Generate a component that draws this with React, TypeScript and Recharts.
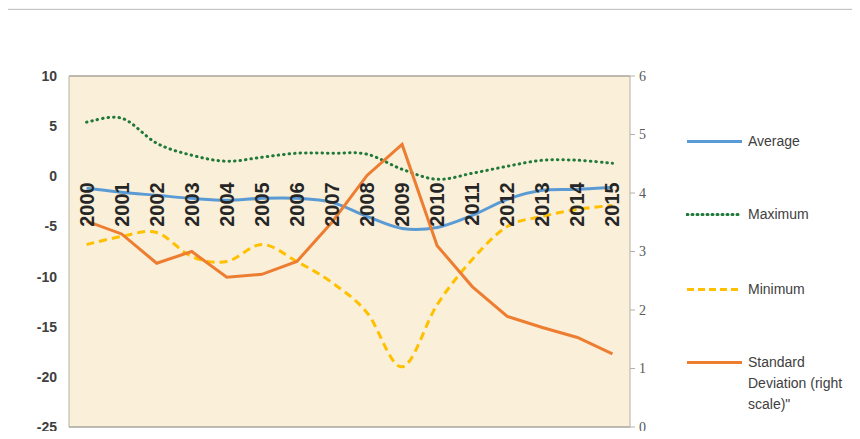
import { LineChart, Line, XAxis, YAxis, CartesianGrid, ReferenceDot } from "recharts";

// values
const years = [
  "2000", "2001", "2002", "2003", "2004", "2005", "2006", "2007",
  "2008", "2009", "2010", "2011", "2012", "2013", "2014", "2015",
];
const average = [-1.2, -1.6, -1.9, -2.2, -2.4, -2.2, -2.2, -2.6, -4.0, -5.2, -5.1, -3.9, -2.3, -1.4, -1.3, -1.1];
const maximum = [5.4, 5.8, 3.3, 2.1, 1.5, 1.9, 2.3, 2.3, 2.2, 0.7, -0.3, 0.3, 1.0, 1.6, 1.6, 1.3];
const minimum = [-6.8, -6.0, -5.6, -8.0, -8.5, -6.8, -8.5, -10.6, -13.6, -19.0, -12.8, -8.3, -5.0, -4.0, -3.3, -2.9];
const stdDev = [3.52, 3.3, 2.8, 3.0, 2.56, 2.61, 2.83, 3.5, 4.3, 4.83, 3.1, 2.4, 1.89, 1.7, 1.53, 1.25];

const leftTicks = [-25, -20, -15, -10, -5, 0, 5, 10];
const rightTicks = [0, 1, 2, 3, 4, 5, 6];

const legendItems = [
  { name: "Average", color: "#5B9BD5", dash: "none", cap: "butt" },
  { name: "Maximum", color: "#1F7A3A", dash: "1 4", cap: "round" },
  { name: "Minimum", color: "#FFC000", dash: "7 4", cap: "butt" },
  { name: "Standard Deviation (right scale)\"", color: "#ED7D31", dash: "none", cap: "butt" },
];

const data = years.map((year, i) => ({
  year,
  average: average[i],
  maximum: maximum[i],
  minimum: minimum[i],
  stdDev: stdDev[i],
}));

// Excel-like smoothed line (Catmull-Rom bezier)
const smooth = (context: any) => {
  let pts: number[][] = [];
  return {
    areaStart() {},
    areaEnd() {},
    lineStart() {
      pts = [];
    },
    point(x: number, y: number) {
      pts.push([+x, +y]);
    },
    lineEnd() {
      if (!pts.length) return;
      context.moveTo(pts[0][0], pts[0][1]);
      for (let i = 0; i < pts.length - 1; i++) {
        const p0 = pts[Math.max(i - 1, 0)];
        const p1 = pts[i];
        const p2 = pts[i + 1];
        const p3 = pts[Math.min(i + 2, pts.length - 1)];
        context.bezierCurveTo(
          p1[0] + (p2[0] - p0[0]) / 6,
          p1[1] + (p2[1] - p0[1]) / 6,
          p2[0] - (p3[0] - p1[0]) / 6,
          p2[1] - (p3[1] - p1[1]) / 6,
          p2[0],
          p2[1]
        );
      }
    },
  };
};

const YearLabel = (props: any) => (
  <text
    transform={`translate(${props.cx},${props.cy + 6}) rotate(-90)`}
    textAnchor="end"
    dominantBaseline="central"
    fontFamily="Liberation Sans, Arial, sans-serif"
    fontWeight="bold"
    fontSize={20}
    fill="#262626"
  >
    {props.label}
  </text>
);

export default function App() {
  return (
    <div style={{ position: "relative", width: 860, height: 439, margin: -8, background: "#fff", overflow: "hidden" }}>
      <div style={{ position: "absolute", left: 0, top: 0 }}>
        <LineChart width={860} height={439} data={data} margin={{ top: 76, right: 200, bottom: 12, left: 0 }}>
          <CartesianGrid
            vertical={false}
            stroke="#A9A59D"
            strokeWidth={1.3}
            fill="#FAEFD8"
            fillOpacity={1}
          />
          <XAxis dataKey="year" scale="band" hide />
          <YAxis
            yAxisId="left"
            domain={[-25, 10]}
            ticks={leftTicks}
            width={69}
            tickSize={0}
            tickMargin={12}
            axisLine={{ stroke: "#B5B0A6" }}
            tick={{ fill: "#404040", fontSize: 14, fontWeight: "bold", fontFamily: "Liberation Sans, Arial, sans-serif" }}
          />
          <YAxis
            yAxisId="right"
            orientation="right"
            domain={[0, 6]}
            ticks={rightTicks}
            width={30}
            tickSize={5}
            tickMargin={4}
            axisLine={{ stroke: "#B5B0A6" }}
            tickLine={{ stroke: "#B5B0A6" }}
            tick={{ fill: "#595959", fontSize: 14, fontFamily: "Liberation Serif, serif" }}
          />
          {years.map((y) => (
            <ReferenceDot
              key={y}
              yAxisId="left"
              x={y}
              y={0}
              r={0}
              shape={(p: any) => <YearLabel {...p} label={y} />}
            />
          ))}
          <Line
            yAxisId="left"
            type={smooth as any}
            dataKey="maximum"
            stroke="#1F7A3A"
            strokeWidth={3}
            strokeDasharray="0.5 5"
            strokeLinecap="round"
            dot={false}
            isAnimationActive={false}
          />
          <Line
            yAxisId="left"
            type={smooth as any}
            dataKey="minimum"
            stroke="#FFC000"
            strokeWidth={3}
            strokeDasharray="8 5"
            dot={false}
            isAnimationActive={false}
          />
          <Line
            yAxisId="left"
            type={smooth as any}
            dataKey="average"
            stroke="#5B9BD5"
            strokeWidth={3}
            dot={false}
            isAnimationActive={false}
          />
          <Line
            yAxisId="right"
            type="linear"
            dataKey="stdDev"
            stroke="#ED7D31"
            strokeWidth={3}
            dot={false}
            isAnimationActive={false}
          />
        </LineChart>
      </div>
      {legendItems.map((item, i) => (
        <div
          key={item.name}
          style={{
            position: "absolute",
            left: 686,
            top: [131, 204, 279, 352][i],
            display: "flex",
            alignItems: "flex-start",
            fontFamily: "Liberation Sans, Arial, sans-serif",
            fontSize: 14,
            lineHeight: "21px",
            color: "#404040",
          }}
        >
          <svg width={58} height={21} style={{ flex: "none" }}>
            <line
              x1={1}
              y1={10.5}
              x2={56}
              y2={10.5}
              stroke={item.color}
              strokeWidth={3}
              strokeDasharray={item.dash === "none" ? undefined : item.dash}
              strokeLinecap={item.cap as any}
            />
          </svg>
          <div style={{ marginLeft: 4, width: 110 }}>{item.name}</div>
        </div>
      ))}
      <div
        style={{
          position: "absolute",
          left: 5,
          top: 9,
          width: 870,
          height: 440,
          border: "1px solid #C4C4C4",
          boxShadow: "0 0 2px #DDDDDD",
          pointerEvents: "none",
        }}
      />
    </div>
  );
}
